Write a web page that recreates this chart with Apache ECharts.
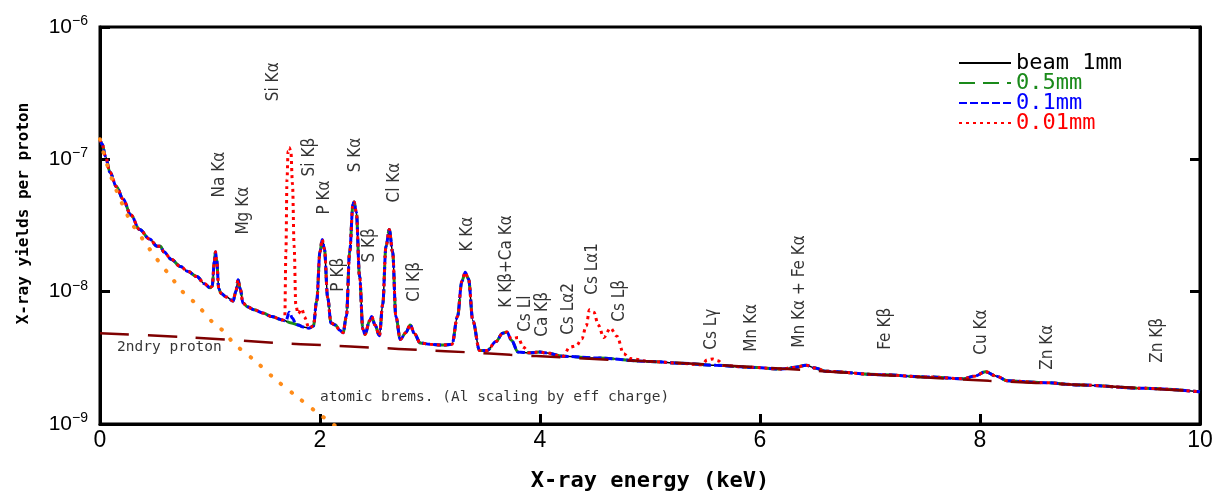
<!DOCTYPE html>
<html>
<head>
<meta charset="utf-8">
<script src="https://cdn.jsdelivr.net/npm/echarts@6/dist/echarts.min.js"></script>
<style>
  html, body { margin: 0; padding: 0; background: #fff; }
  #chart { width: 1216px; height: 491px; }
</style>
</head>
<body>
<div id="chart"></div>
<script>
// beam 1mm spectrum (0.5mm is the same within line width)
const energyKeV = [0.00, 0.02, 0.05, 0.09, 0.15, 0.21, 0.28, 0.36, 0.45, 0.52, 0.55, 0.58, 0.65, 0.73, 0.80, 0.88, 0.95, 1.00,
  1.02, 1.04, 1.05, 1.06, 1.08, 1.10, 1.15, 1.21, 1.235, 1.255, 1.275, 1.30, 1.34, 1.40, 1.48, 1.56, 1.66, 1.74, 1.80, 1.85,
  1.90, 1.94, 1.97, 2.00, 2.02, 2.04, 2.07, 2.10, 2.14, 2.18, 2.21, 2.24, 2.27, 2.30, 2.31, 2.33, 2.36, 2.39, 2.41, 2.45,
  2.47, 2.50, 2.54, 2.57, 2.60, 2.63, 2.66, 2.69, 2.73, 2.78, 2.82, 2.86, 2.91, 3.00, 3.12, 3.20, 3.25, 3.29, 3.32, 3.35,
  3.39, 3.45, 3.52, 3.60, 3.66, 3.70, 3.74, 3.80, 3.90, 4.00, 4.05, 4.21, 4.52, 5.00, 5.27, 5.60, 5.88, 6.20, 6.32, 6.42,
  6.50, 6.60, 7.09, 7.50, 7.85, 7.95, 8.05, 8.15, 8.25, 8.60, 8.91, 9.50, 10.0];
const beam1mm = [1.42e-7, 1.30e-7, 1.05e-7, 8.0e-8, 6.2e-8, 5.0e-8, 3.8e-8, 2.95e-8, 2.5e-8, 2.2e-8, 2.2e-8, 2.0e-8, 1.75e-8, 1.55e-8, 1.42e-8, 1.30e-8, 1.15e-8, 1.07e-8,
  1.1e-8, 1.7e-8, 2.0e-8, 1.75e-8, 1.05e-8, 9.7e-9, 9.1e-9, 8.5e-9, 1.0e-8, 1.23e-8, 1.05e-8, 8.2e-9, 7.7e-9, 7.3e-9, 6.9e-9, 6.5e-9, 6.1e-9, 5.8e-9, 5.6e-9, 5.4e-9,
  5.3e-9, 5.5e-9, 8.5e-9, 2.0e-8, 2.48e-8, 2.1e-8, 9.0e-9, 5.8e-9, 5.6e-9, 5.1e-9, 4.9e-9, 6.5e-9, 2.0e-8, 4.6e-8, 4.75e-8, 4.0e-8, 1.3e-8, 5.2e-9, 4.75e-9, 6.0e-9,
  6.5e-9, 5.6e-9, 4.65e-9, 8.0e-9, 2.2e-8, 2.95e-8, 2.0e-8, 6.5e-9, 4.35e-9, 4.9e-9, 5.6e-9, 4.8e-9, 4.1e-9, 4.0e-9, 3.95e-9, 4.0e-9, 6.5e-9, 1.2e-8, 1.4e-8, 1.25e-8,
  6.0e-9, 3.6e-9, 3.6e-9, 4.2e-9, 4.85e-9, 4.95e-9, 4.3e-9, 3.5e-9, 3.45e-9, 3.5e-9, 3.45e-9, 3.25e-9, 3.15e-9, 2.97e-9, 2.88e-9, 2.78e-9, 2.69e-9, 2.6e-9, 2.68e-9, 2.78e-9,
  2.65e-9, 2.5e-9, 2.36e-9, 2.27e-9, 2.2e-9, 2.3e-9, 2.48e-9, 2.3e-9, 2.12e-9, 2.05e-9, 1.97e-9, 1.86e-9, 1.75e-9];

// 0.1mm: small Si Ka bump
const si01E = [1.69, 1.72, 1.75, 1.78];
const si01Y = [6.0e-9, 7.0e-9, 6.3e-9, 5.7e-9];

// 0.01mm: Si Ka and Cs L lines
const si001E = [1.66, 1.68, 1.69, 1.70, 1.71, 1.72, 1.735, 1.75, 1.765, 1.78, 1.80, 1.835, 1.86];
const si001Y = [6.1e-9, 6.5e-9, 2.0e-8, 7.0e-8, 1.15e-7, 1.23e-7, 1.15e-7, 6.5e-8, 2.2e-8, 8.0e-9, 6.8e-9, 7.4e-9, 6.4e-9];
const csLlE = [3.74, 3.80, 3.85, 3.90];
const csLlY = [4.4e-9, 4.5e-9, 3.8e-9, 3.45e-9];
const csLaE = [4.21, 4.27, 4.33, 4.38, 4.42, 4.45, 4.49, 4.53, 4.58, 4.64, 4.70, 4.76, 4.82];
const csLaY = [3.25e-9, 3.8e-9, 3.9e-9, 4.4e-9, 5.5e-9, 7.3e-9, 7.0e-9, 5.6e-9, 4.5e-9, 5.3e-9, 4.6e-9, 3.4e-9, 3.12e-9];
const csLgE = [5.47, 5.52, 5.57, 5.62, 5.67];
const csLgY = [2.8e-9, 3.05e-9, 3.1e-9, 3.0e-9, 2.77e-9];

// secondary proton brems and atomic brems
const protonE = [0, 0.75, 1.6, 2.05, 2.5, 2.93, 3.35, 3.73, 4.2, 4.7, 5.05, 6.4, 7.1, 8.08, 8.94, 10];
const protonY = [4.85e-9, 4.55e-9, 4.1e-9, 3.93e-9, 3.77e-9, 3.62e-9, 3.48e-9, 3.33e-9, 3.19e-9, 3.04e-9, 2.96e-9, 2.56e-9, 2.35e-9, 2.12e-9, 1.97e-9, 1.76e-9];
const atomicE = [0, 0.05, 0.12, 0.27, 0.39, 0.52, 0.64, 0.76, 0.88, 1.03, 1.14, 1.21, 1.41, 1.59, 1.79, 1.98, 2.09, 2.2];
const atomicY = [1.42e-7, 1.0e-7, 6.7e-8, 3.5e-8, 2.48e-8, 1.75e-8, 1.31e-8, 9.8e-9, 8.0e-9, 5.8e-9, 4.9e-9, 4.11e-9, 3.0e-9, 2.19e-9, 1.61e-9, 1.21e-9, 1.04e-9, 0.88e-9];

// peak labels: text, energy and value where the (rotated) text starts
const peakNames = ['Na Kα', 'Mg Kα', 'Si Kα', 'Si Kβ', 'P Kα', 'P Kβ', 'S Kα', 'S Kβ', 'Cl Kα', 'Cl Kβ', 'K Kα',
  'K Kβ+Ca Kα', 'Cs Ll', 'Ca Kβ', 'Cs Lα2', 'Cs Lα1', 'Cs Lβ', 'Cs Lγ', 'Mn Kα', 'Mn Kα + Fe Kα', 'Fe Kβ', 'Cu Kα', 'Zn Kα', 'Zn Kβ'];
const peakLabelE = [1.086, 1.305, 1.577, 1.909, 2.045, 2.173, 2.327, 2.455, 2.682, 2.864, 3.345,
  3.70, 3.873, 4.027, 4.264, 4.482, 4.727, 5.564, 5.927, 6.364, 7.145, 8.018, 8.618, 9.618];
const peakLabelY = [5.15e-8, 2.70e-8, 2.75e-7, 7.43e-8, 3.83e-8, 1.0e-8, 7.98e-8, 1.66e-8, 4.72e-8, 8.4e-9, 2.01e-8,
  7.57e-9, 4.97e-9, 4.56e-9, 4.72e-9, 9.48e-9, 5.93e-9, 3.64e-9, 3.51e-9, 3.77e-9, 3.64e-9, 3.34e-9, 2.57e-9, 2.90e-9];

const noteNames = ['2ndry proton', 'atomic brems. (Al scaling by eff charge)'];
const noteE = [0.155, 2.0];
const noteY = [3.8e-9, 1.6e-9];

const xTicks = [0, 2, 4, 6, 8, 10];

function pairs(es, ys) {
  return es.map((e, i) => [e, ys[i]]);
}

// replace the base curve inside the range of an inserted piece
function withInsert(pts, insE, insY) {
  const lo = insE[0], hi = insE[insE.length - 1];
  return pts.filter(p => p[0] < lo || p[0] > hi).concat(pairs(insE, insY)).sort((a, b) => a[0] - b[0]);
}

const base = pairs(energyKeV, beam1mm);
const data01 = withInsert(base, si01E, si01Y);
let data001 = withInsert(base, si001E, si001Y);
data001 = withInsert(data001, csLlE, csLlY);
data001 = withInsert(data001, csLaE, csLaY);
data001 = withInsert(data001, csLgE, csLgY);

const mono = "'DejaVu Sans Mono', monospace";
const narrow = "'Liberation Sans Narrow', 'DejaVu Sans Condensed', 'Liberation Sans', sans-serif";

const chart = echarts.init(document.getElementById('chart'), null, { renderer: 'canvas' });

function lineSeries(name, data, color, type, width) {
  return {
    name: name,
    type: 'line',
    data: data,
    symbol: 'none',
    smooth: 0.35,
    smoothMonotone: 'x',
    lineStyle: { color: color, type: type, width: width },
    itemStyle: { color: color },
    z: 3
  };
}

chart.setOption({
  animation: false,
  backgroundColor: '#fff',
  grid: {
    left: 100, right: 16, top: 27, bottom: 67,
    outerBoundsMode: 'none',
    show: true, borderColor: '#000', borderWidth: 3
  },
  legend: {
    orient: 'vertical',
    left: 953,
    top: 47,
    itemWidth: 52,
    itemHeight: 14,
    itemGap: -2,
    itemStyle: { opacity: 0 },
    textStyle: { fontFamily: mono, fontSize: 22, lineHeight: 20 },
    data: [
      { name: 'beam 1mm', textStyle: { color: '#000' } },
      { name: '0.5mm', textStyle: { color: '#1a8a1a' } },
      { name: '0.1mm', textStyle: { color: '#0000ff' } },
      { name: '0.01mm', textStyle: { color: '#ff0000' } }
    ]
  },
  xAxis: {
    type: 'value',
    min: 0,
    max: 10,
    interval: 2,
    name: 'X-ray energy (keV)',
    nameLocation: 'middle',
    nameGap: 46,
    nameTextStyle: { fontFamily: mono, fontSize: 22, fontWeight: 'bold', color: '#000' },
    axisLine: { lineStyle: { color: '#000', width: 3 } },
    axisTick: { inside: true, length: 10, lineStyle: { width: 3, color: '#000' } },
    axisLabel: {
      margin: 5,
      fontFamily: 'Liberation Sans, sans-serif',
      fontSize: 23,
      color: '#000',
      formatter: v => (xTicks.indexOf(v) >= 0 ? String(v) : '')
    },
    splitLine: { show: false }
  },
  yAxis: [{
    type: 'log',
    logBase: 10,
    min: 1e-9,
    max: 1e-6,
    name: 'X-ray yields per proton',
    nameLocation: 'middle',
    nameGap: 68,
    nameRotate: 90,
    nameTextStyle: { fontFamily: mono, fontSize: 16, fontWeight: 'bold', color: '#000', padding: [0, 0, 0, 24] },
    axisLine: { show: true, lineStyle: { color: '#000', width: 3 } },
    axisTick: { inside: true, length: 10, lineStyle: { width: 3, color: '#000' } },
    axisLabel: {
      margin: 12,
      color: '#000',
      formatter: v => '{b|10}{s|' + '\u2212' + Math.round(-Math.log10(v)) + '}',
      rich: {
        b: { fontFamily: 'Liberation Sans, sans-serif', fontSize: 21, color: '#000' },
        s: { fontFamily: 'Liberation Sans, sans-serif', fontSize: 14, color: '#000', padding: [0, 0, 12, 0] }
      }
    },
    splitLine: { show: false }
  }, {
    type: 'log',
    logBase: 10,
    min: 1e-9,
    max: 1e-6,
    position: 'right',
    axisLine: { show: true, lineStyle: { color: '#000', width: 3 } },
    axisTick: { inside: true, length: 10, lineStyle: { width: 3, color: '#000' } },
    axisLabel: { show: false },
    splitLine: { show: false }
  }],
  series: [
    lineSeries('beam 1mm', base, '#000000', 'solid', 1.5),
    lineSeries('0.5mm', base, '#1a8a1a', [16, 8], 3),
    lineSeries('0.1mm', data01, '#0000ff', [8, 3], 3),
    lineSeries('0.01mm', data001, '#ff0000', [3, 4], 3),
    {
      name: '2ndry proton',
      type: 'line',
      data: pairs(protonE, protonY),
      symbol: 'none',
      smooth: 0.3,
      lineStyle: { color: '#7f0000', type: [29, 19], width: 2.5 },
      z: 4
    },
    {
      name: 'atomic brems',
      type: 'line',
      data: pairs(atomicE, atomicY),
      symbol: 'none',
      smooth: 0.3,
      clip: true,
      lineStyle: { color: '#ff8c1a', type: [0.5, 13], width: 4, cap: 'round' },
      z: 5
    },
    {
      name: 'peaks',
      type: 'scatter',
      symbolSize: 0,
      silent: true,
      data: peakNames.map((n, i) => ({ name: n, value: [peakLabelE[i], peakLabelY[i]] })),
      label: {
        show: true,
        position: [0, 0],
        rotate: 90,
        align: 'left',
        verticalAlign: 'middle',
        formatter: '{b}',
        fontFamily: narrow,
        fontSize: 17,
        color: '#000'
      },
      z: 6
    },
    {
      name: 'notes',
      type: 'scatter',
      symbolSize: 0,
      silent: true,
      data: noteNames.map((n, i) => ({ name: n, value: [noteE[i], noteY[i]] })),
      label: {
        show: true,
        position: [0, 0],
        align: 'left',
        verticalAlign: 'middle',
        formatter: '{b}',
        fontFamily: mono,
        fontSize: 14.5,
        color: '#000'
      },
      z: 6
    }
  ]
});
</script>
</body>
</html>
